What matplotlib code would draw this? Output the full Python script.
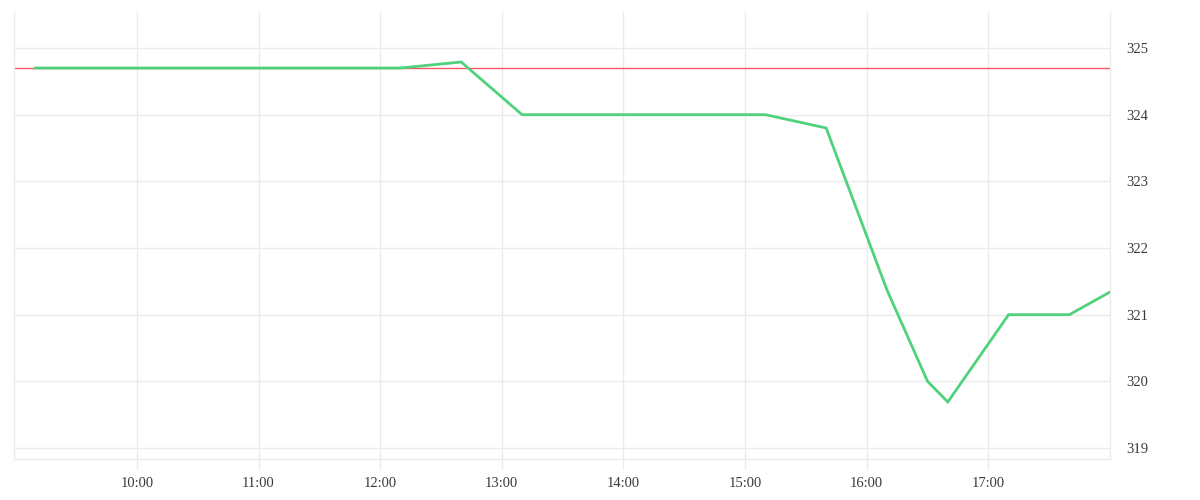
import datetime

import matplotlib
matplotlib.use('Agg')
import matplotlib.pyplot as plt
import matplotlib.dates as mdates

DAY = datetime.date(2024, 1, 2)

# price line (time, value)
TIMES = ['09:10', '12:10', '12:40', '13:10', '15:10', '15:40',
         '16:10', '16:30', '16:40', '17:10', '17:40', '18:00']
PRICES = [324.7, 324.7, 324.79, 324.0, 324.0, 323.8,
          321.37, 320.0, 319.69, 321.0, 321.0, 321.34]
REF_LEVEL = 324.7

YTICKS = [319, 320, 321, 322, 323, 324, 325]
XTICKS = ['10:00', '11:00', '12:00', '13:00', '14:00', '15:00', '16:00', '17:00']

GRID = '#ebebeb'
TEXT = '#3a3a3a'


def to_dt(hhmm):
    h, m = map(int, hhmm.split(':'))
    return datetime.datetime.combine(DAY, datetime.time(h, m))


times = [to_dt(t) for t in TIMES]

fig = plt.figure(figsize=(12, 5), dpi=100)
ax = fig.add_axes([14 / 1200, 41 / 500, 1096 / 1200, 447 / 500])

ax.axhline(REF_LEVEL, color='#f25667', lw=1.0, zorder=2)
ax.plot(times, PRICES, color='#4fd27b', lw=2.0, zorder=3,
        solid_joinstyle='miter')

ax.set_xlim(to_dt('09:00') - datetime.timedelta(minutes=0.6), to_dt('18:00'))
ax.set_ylim(318.835, 325.54)

ax.set_xticks([to_dt(t) for t in XTICKS])
ax.xaxis.set_major_formatter(mdates.DateFormatter('%H:%M'))
ax.set_yticks(YTICKS)

ax.yaxis.tick_right()
ax.grid(True, color=GRID, lw=1.0)
ax.set_axisbelow(True)

ax.spines['top'].set_visible(False)
for side in ('left', 'right', 'bottom'):
    ax.spines[side].set_color(GRID)
    ax.spines[side].set_linewidth(1.0)

ax.tick_params(axis='x', length=7, width=1.0, color=GRID, pad=6,
               labelsize=10.5, labelcolor=TEXT)
ax.tick_params(axis='y', length=0, pad=12, labelsize=10.5, labelcolor=TEXT)
for lbl in ax.get_xticklabels() + ax.get_yticklabels():
    lbl.set_family('Liberation Serif')

fig.savefig('out.png', dpi=100)
